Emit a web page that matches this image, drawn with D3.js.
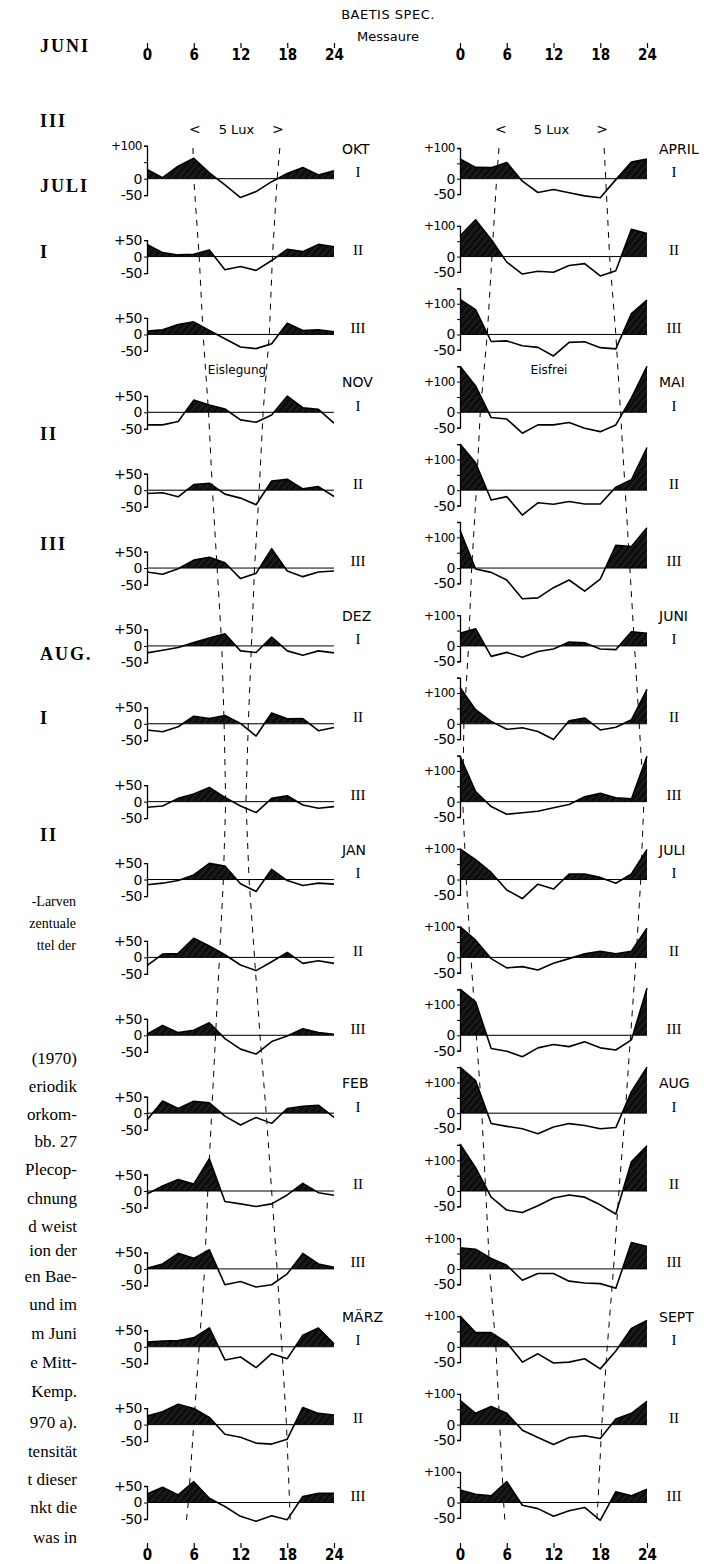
<!DOCTYPE html>
<html>
<head>
<meta charset="utf-8">
<script src="https://cdn.jsdelivr.net/npm/d3@7"></script>
<style>
body { margin: 0; background: #fff; }
svg { display: block; }
.sans { font-family: "DejaVu Sans", sans-serif; }
.serif { font-family: "Liberation Serif", "DejaVu Serif", serif; }
</style>
</head>
<body>
<div id="chart"></div>
<script>
// sampling every 2 h
var hours = [0, 2, 4, 6, 8, 10, 12, 14, 16, 18, 20, 22, 24];
var hourTicks = [0, 6, 12, 18, 24];

// % deviation from daily mean, decades I, II, III of each month
var okt = [
    [28, 3, 38, 62, 18, -19, -57, -39, -9, 16, 34, 11, 24],
    [37, 12, 5, 7, 20, -40, -30, -42, -12, 22, 15, 37, 30],
    [10, 14, 30, 38, 12, -13, -38, -43, -28, 34, 12, 14, 8]];
var nov = [
    [-38, -38, -28, 37, 22, 10, -23, -30, -8, 49, 14, 9, -33],
    [-10, -8, -20, 17, 21, -12, -24, -44, 28, 33, 4, 11, -19],
    [-12, -19, -2, 24, 33, 16, -32, -16, 59, -9, -26, -12, -9]];
var dez = [
    [-21, -13, -5, 10, 24, 37, -15, -20, 27, -15, -28, -15, -21],
    [-19, -24, -9, 23, 16, 25, 1, -37, 33, 15, 16, -21, -11],
    [-17, -13, 10, 23, 43, 13, -13, -33, 10, 18, -10, -20, -15]];
var jan = [
    [-16, -11, -3, 14, 49, 41, -13, -36, 31, -3, -18, -11, -14],
    [-25, 10, 12, 58, 35, 8, -23, -40, -13, 15, -18, -10, -18],
    [3, 30, 8, 15, 38, -10, -42, -57, -19, -2, 20, 8, 3]];
var feb = [
    [-21, 37, 14, 36, 31, -9, -36, -13, -31, 14, 21, 24, -13],
    [-9, 15, 35, 21, 98, -32, -39, -47, -39, -12, 23, -5, -13],
    [2, 15, 47, 32, 58, -48, -38, -55, -48, -15, 47, 15, 5]];
var maerz = [
    [14, 17, 19, 27, 57, -40, -31, -63, -21, -36, 35, 57, 9],
    [26, 39, 62, 49, 22, -29, -38, -56, -59, -44, 52, 34, 29],
    [26, 46, 23, 63, 13, -12, -42, -57, -40, -52, 18, 28, 28]];
var april = [
    [64, 37, 36, 53, -8, -45, -35, -46, -56, -62, -3, 54, 64],
    [67, 120, 56, -18, -57, -48, -51, -29, -23, -63, -46, 89, 75],
    [114, 81, -23, -21, -37, -42, -70, -26, -24, -43, -47, 68, 112]];
var mai = [
    [150, 86, -17, -22, -68, -41, -41, -33, -52, -63, -41, 47, 150],
    [150, 89, -32, -21, -81, -41, -46, -37, -45, -45, 10, 34, 139],
    [123, -3, -14, -39, -100, -97, -64, -39, -75, -36, 74, 70, 131]];
var juni = [
    [41, 56, -34, -21, -37, -18, -10, 13, 10, -10, -12, 46, 41],
    [118, 46, 8, -18, -13, -25, -51, 10, 19, -20, -11, 13, 112],
    [148, 33, -16, -41, -36, -31, -20, -9, 16, 27, 13, 9, 148]];
var juli = [
    [100, 65, 23, -34, -62, -15, -31, 18, 18, 7, -12, 18, 98],
    [100, 56, -4, -34, -30, -41, -19, -4, 12, 20, 12, 20, 95],
    [150, 109, -43, -52, -70, -41, -30, -37, -21, -41, -48, -15, 153]];
var aug = [
    [150, 106, -34, -43, -51, -67, -45, -34, -40, -51, -47, 70, 150],
    [153, 76, -20, -62, -70, -48, -23, -13, -20, -45, -75, 95, 147],
    [69, 64, 34, 12, -37, -15, -15, -40, -46, -48, -63, 86, 73]];
var sept = [
    [100, 46, 46, 13, -50, -23, -53, -50, -39, -72, -14, 60, 86],
    [79, 37, 59, 37, -18, -42, -65, -42, -36, -45, 18, 37, 76],
    [41, 27, 22, 68, -9, -20, -45, -27, -16, -58, 35, 22, 43]];

var leftMonths = ["OKT", "NOV", "DEZ", "JAN", "FEB", "MÄRZ"];
var rightMonths = ["APRIL", "MAI", "JUNI", "JULI", "AUG", "SEPT"];
var decades = ["I", "II", "III"];

// upper end of each y axis
var leftTop = [100, 50, 50, 50, 50, 50, 50, 50, 50, 50, 50, 50, 50, 50, 50, 50, 50, 50];
var rightTop = [100, 100, 150, 150, 150, 150, 100, 150, 150, 100, 100, 150, 150, 150, 100, 100, 100, 100];

// time (h) of the < 5 Lux limits: top end, 18 panels, bottom end
var dawnLeft = [5.9, 6.0, 6.7, 7.2, 7.9, 8.4, 9.0, 9.6, 9.9, 10.1, 9.8, 9.3, 8.8, 8.3, 7.8, 7.4, 6.7, 6.0, 5.3, 5.0];
var duskLeft = [17.05, 16.7, 16.1, 15.7, 14.9, 14.4, 13.8, 13.4, 13.0, 12.7, 13.1, 13.8, 14.5, 15.3, 16.0, 16.7, 17.3, 17.9, 18.3, 18.4];
var dawnRight = [5.0, 4.7, 4.1, 3.5, 2.6, 2.1, 1.5, 1.1, 0.5, 0.35, 0.8, 1.4, 2.1, 2.8, 3.3, 3.8, 4.6, 5.1, 5.6, 5.8];
var duskRight = [18.5, 18.7, 19.2, 20.0, 20.6, 21.2, 21.8, 22.4, 23.0, 23.6, 23.2, 22.6, 21.9, 21.2, 20.4, 19.7, 18.9, 18.2, 17.7, 17.5];

// fragments of the neighbouring page
var sideHeads = ["JUNI", "III", "JULI", "I", "II", "III", "AUG.", "I", "II"];
var sideHeadY = [48, 123, 188, 254, 436, 546, 656, 720, 837];
var captionLines = ["-Larven", "zentuale", "ttel der"];
var captionY = [903, 925, 947];
var bodyLines = ["(1970)", "eriodik", "orkom-", "bb. 27", "Plecop-", "chnung", "d weist", "ion der",
    "en Bae-", "und im", "m Juni", "e Mitt-", "Kemp.", "970 a).", "tensität", "t dieser", "nkt die", "was in"];
var bodyY = [1060, 1088, 1116, 1143, 1171, 1200, 1228, 1252, 1278, 1306, 1335, 1364, 1393, 1424, 1453, 1481, 1509, 1539];

var W = 715, H = 1564;
var svg = d3.select("#chart").append("svg")
    .attr("width", W)
    .attr("height", H);

var defs = svg.append("defs");
var pat = defs.append("pattern")
    .attr("id", "shade")
    .attr("patternUnits", "userSpaceOnUse")
    .attr("width", 5).attr("height", 5)
    .attr("patternTransform", "rotate(40)");
pat.append("rect").attr("width", 5).attr("height", 5).attr("fill", "#0d0d0d");
pat.append("line").attr("x1", 1).attr("y1", 0).attr("x2", 1).attr("y2", 5)
    .attr("stroke", "#3c3c3c").attr("stroke-width", 0.7);

var rowY = d3.scaleLinear().domain([0, 17]).range([178.7, 1502.5]);

var fmt = function(d) {
    if (d > 0) return "+" + d;
    if (d < 0) return "-" + Math.abs(d);
    return "0";
};

function drawColumn(c) {
    var x = c.x;
    var g = svg.append("g");
    var series = [].concat.apply([], c.months.map(function(m) { return c.byMonth[m]; }));

    // hour axes top and bottom
    [43, 1543].forEach(function(ty) {
        var ax = g.append("g")
            .attr("transform", "translate(0," + ty + ")")
            .call(d3.axisBottom(x).tickValues(hourTicks).tickSize(5).tickPadding(1));
        ax.select(".domain").remove();
        ax.selectAll("line").attr("stroke-width", 1.2);
        ax.selectAll("text")
            .attr("font-family", "DejaVu Sans Condensed, DejaVu Sans, sans-serif")
            .attr("font-size", 15)
            .attr("font-weight", "bold")
            .attr("fill", "#000");
    });

    // dashed light limits
    var ys = [148].concat(d3.range(18).map(rowY)).concat([1525]);
    var dl = d3.line().x(function(d) { return x(d.h); }).y(function(d) { return d.y; });
    c.dashes.forEach(function(arr) {
        g.append("path")
            .datum(arr.map(function(h, i) { return {h: h, y: ys[i]}; }))
            .attr("d", dl)
            .attr("fill", "none")
            .attr("stroke", "#000")
            .attr("stroke-width", 1)
            .attr("stroke-dasharray", "6,6");
    });

    g.append("text").attr("class", "sans")
        .attr("x", (x(c.dashes[0][0]) + x(c.dashes[1][0])) / 2).attr("y", 134)
        .attr("text-anchor", "middle").attr("font-size", 13)
        .text("5 Lux");
    g.append("text").attr("class", "sans")
        .attr("x", x(c.dashes[0][0]) + 2).attr("y", 134)
        .attr("text-anchor", "middle").attr("font-size", 14).text("<");
    g.append("text").attr("class", "sans")
        .attr("x", x(c.dashes[1][0]) - 2).attr("y", 134)
        .attr("text-anchor", "middle").attr("font-size", 14).text(">");
    g.append("text").attr("class", "sans")
        .attr("x", c.iceX).attr("y", 374)
        .attr("text-anchor", "middle").attr("font-size", 12)
        .text(c.ice);

    series.forEach(function(vals, i) {
        var zero = rowY(i);
        var top = c.tops[i];
        var y = d3.scaleLinear().domain([-50, top]).range([zero + 50 * c.k, zero - top * c.k]);
        var pg = g.append("g");

        var cid = "clip" + c.id + i;
        defs.append("clipPath").attr("id", cid)
            .append("rect")
            .attr("x", x(0)).attr("y", zero - 80)
            .attr("width", x(24) - x(0)).attr("height", 80);

        var area = d3.area()
            .x(function(d, j) { return x(hours[j]); })
            .y0(zero)
            .y1(function(d) { return y(d); });
        pg.append("path")
            .datum(vals)
            .attr("d", area)
            .attr("fill", "url(#shade)")
            .attr("clip-path", "url(#" + cid + ")");

        pg.append("line")
            .attr("x1", x(0)).attr("x2", x(24))
            .attr("y1", zero).attr("y2", zero)
            .attr("stroke", "#000").attr("stroke-width", 1);

        pg.append("path")
            .datum(vals)
            .attr("d", d3.line().x(function(d, j) { return x(hours[j]); }).y(function(d) { return y(d); }))
            .attr("fill", "none")
            .attr("stroke", "#000")
            .attr("stroke-width", 1.6)
            .attr("stroke-linejoin", "round");

        var shown = c.labelsFor(top);
        var ax = pg.append("g")
            .attr("transform", "translate(" + x(0) + ",0)")
            .call(d3.axisLeft(y)
                .tickValues(d3.range(-50, top + 1, 50))
                .tickSize(3)
                .tickPadding(2)
                .tickFormat(function(d) { return shown.indexOf(d) >= 0 ? fmt(d) : ""; }));
        ax.select(".domain").attr("stroke-width", 1.3);
        ax.selectAll("text")
            .attr("font-family", "DejaVu Sans, sans-serif")
            .attr("font-size", function(d) { return d == 100 ? 12 : 14; })
            .attr("letter-spacing", -0.5)
            .attr("fill", "#000");

        pg.append("text").attr("class", "serif")
            .attr("x", c.numX).attr("y", zero - 5)
            .attr("text-anchor", "middle")
            .attr("dominant-baseline", "middle")
            .attr("font-size", 15)
            .text(decades[i % 3]);

        if (i % 3 === 0) {
            pg.append("text").attr("class", "sans")
                .attr("x", c.monthX).attr("y", zero - 29)
                .attr("dominant-baseline", "middle")
                .attr("font-size", 14)
                .text(c.months[i / 3]);
        }
    });
}

drawColumn({
    id: "L",
    x: d3.scaleLinear().domain([0, 24]).range([147, 334]),
    k: 0.33,
    months: leftMonths,
    byMonth: {"OKT": okt, "NOV": nov, "DEZ": dez, "JAN": jan, "FEB": feb, "MÄRZ": maerz},
    tops: leftTop,
    labelsFor: function(top) { return [top, 0, -50]; },
    dashes: [dawnLeft, duskLeft],
    monthX: 342, numX: 358,
    ice: "Eislegung", iceX: 237
});

drawColumn({
    id: "R",
    x: d3.scaleLinear().domain([0, 24]).range([460, 647]),
    k: 0.307,
    months: rightMonths,
    byMonth: {"APRIL": april, "MAI": mai, "JUNI": juni, "JULI": juli, "AUG": aug, "SEPT": sept},
    tops: rightTop,
    labelsFor: function() { return [100, 0, -50]; },
    dashes: [dawnRight, duskRight],
    monthX: 659, numX: 674,
    ice: "Eisfrei", iceX: 549
});

// title
svg.append("text").attr("class", "sans")
    .attr("x", 388).attr("y", 19)
    .attr("text-anchor", "middle").attr("font-size", 13)
    .attr("letter-spacing", 0.5)
    .text("BAETIS SPEC.");
svg.append("text").attr("class", "sans")
    .attr("x", 388).attr("y", 41)
    .attr("text-anchor", "middle").attr("font-size", 13)
    .text("Messaure");

// cut-off text of the neighbouring column
var side = svg.append("g").attr("class", "serif");
side.selectAll(".head")
    .data(sideHeads)
    .enter().append("text")
    .attr("x", 40)
    .attr("y", function(d, i) { return sideHeadY[i]; })
    .attr("dominant-baseline", "middle")
    .attr("font-size", 18)
    .attr("font-weight", "bold")
    .attr("letter-spacing", 2)
    .text(function(d) { return d; });
side.selectAll(".cap")
    .data(captionLines)
    .enter().append("text")
    .attr("x", 76)
    .attr("y", function(d, i) { return captionY[i]; })
    .attr("text-anchor", "end")
    .attr("dominant-baseline", "middle")
    .attr("font-size", 14)
    .text(function(d) { return d; });
side.selectAll(".body")
    .data(bodyLines)
    .enter().append("text")
    .attr("x", 77)
    .attr("y", function(d, i) { return bodyY[i]; })
    .attr("text-anchor", "end")
    .attr("dominant-baseline", "middle")
    .attr("font-size", 17)
    .text(function(d) { return d; });
</script>
</body>
</html>
